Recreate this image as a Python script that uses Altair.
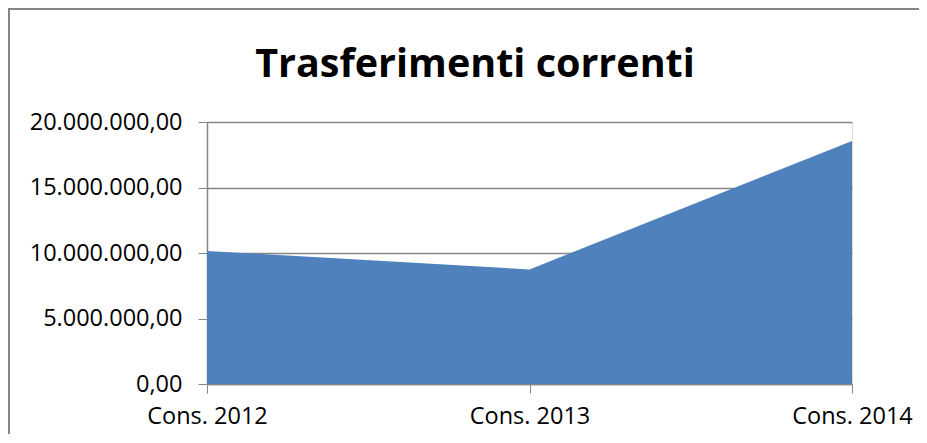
import altair as alt
import pandas as pd

categories = ["Cons. 2012", "Cons. 2013", "Cons. 2014"]
values = [10160000, 8750000, 18550000]
y_ticks = [0, 5000000, 10000000, 15000000, 20000000]
title_text = "Trasferimenti correnti"

df = pd.DataFrame({"cat": categories, "val": values})

FONT = "Open Sans"
GRAY = "#868686"

base = alt.Chart(df)

area = base.mark_area(color="#4F81BD", opacity=1, interpolate="linear").encode(
    x=alt.X(
        "cat:O",
        sort=categories,
        scale=alt.Scale(type="point", padding=0),
        axis=alt.Axis(
            title=None,
            labelAngle=0,
            labelFont=FONT,
            labelFontSize=23.5,
            labelColor="#000000",
            labelPadding=11,
            tickSize=9,
            tickColor=GRAY,
            domainColor=GRAY,
            domainWidth=1.5,
            grid=False,
        ),
    ),
    y=alt.Y(
        "val:Q",
        scale=alt.Scale(domain=[0, 20000000], nice=False),
        axis=alt.Axis(
            title=None,
            values=y_ticks,
            labelExpr="replace(replace(replace(format(datum.value, ',.2f'), regexp(',', 'g'), '#'), '.', ','), regexp('#', 'g'), '.')",
            labelFont=FONT,
            labelFontSize=23.5,
            labelColor="#000000",
            labelPadding=16,
            tickSize=9,
            tickColor=GRAY,
            domainColor=GRAY,
            domainWidth=1.5,
            grid=True,
            gridColor=GRAY,
            gridWidth=1.5,
        ),
    ),
)

title = alt.Chart(pd.DataFrame({"t": [title_text]})).mark_text(
    font=FONT, fontSize=39.5, fontWeight="bold", color="#000000",
    align="center", baseline="alphabetic",
).encode(text="t:N", x=alt.value(268), y=alt.value(-45))

one = pd.DataFrame({"a": [0]})
frame_top = alt.Chart(one).mark_rule(color=GRAY, strokeWidth=2).encode(
    x=alt.value(-199), x2=alt.value(713), y=alt.value(-113)
)
frame_left = alt.Chart(one).mark_rule(color=GRAY, strokeWidth=2).encode(
    x=alt.value(-198), y=alt.value(-114), y2=alt.value(400)
)

chart = alt.layer(area, title, frame_top, frame_left).properties(
    width=645,
    height=262,
    autosize=alt.AutoSizeParams(type="none"),
    padding={"left": 199, "top": 114, "right": 67, "bottom": 50},
).configure_view(stroke=None).configure(background="#ffffff")

chart.save("out.html", embed_options={"renderer": "svg", "actions": False})
